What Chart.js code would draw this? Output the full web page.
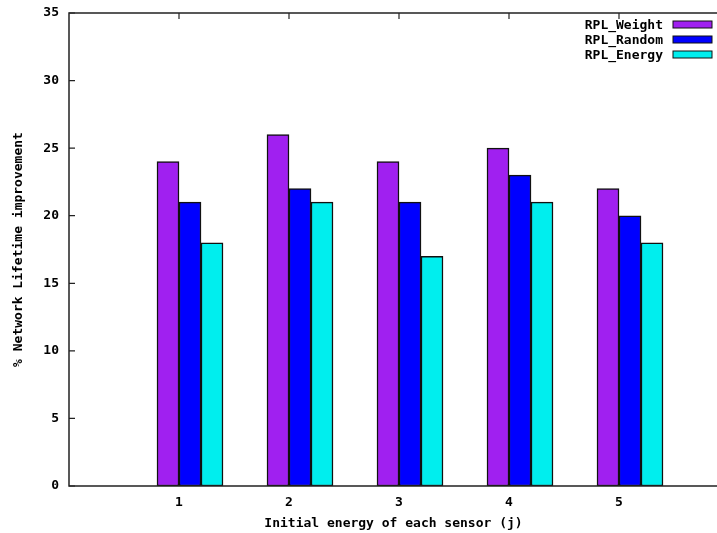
<!DOCTYPE html>
<html>
<head>
<meta charset="utf-8">
<script src="https://cdn.jsdelivr.net/npm/chart.js@4.4.1/dist/chart.umd.min.js"></script>
<style>
  html, body { margin: 0; padding: 0; background: #fff; overflow: hidden; }
  #wrap { width: 720px; height: 533px; }
</style>
</head>
<body>
<div id="wrap"><canvas id="c" width="720" height="533"></canvas></div>
<script>
// ---- data ----
const categories = [1, 2, 3, 4, 5];
const seriesNames = ['RPL_Weight', 'RPL_Random', 'RPL_Energy'];
const weightValues = [24, 26, 24, 25, 22];
const randomValues = [21, 22, 21, 23, 20];
const energyValues = [18, 21, 17, 21, 18];
const yTickValues = [0, 5, 10, 15, 20, 25, 30, 35];
const xTitle = 'Initial energy of each sensor (j)';
const yTitle = '% Network Lifetime improvement';

// ---- styling ----
const colors = ['#a020f0', '#0000ff', '#00eeee'];
const clusterOffsets = [-0.1, 0.1, 0.3];
const FONT = 'DejaVu Sans Mono';
const fontSpec = { family: FONT, size: 13, weight: 'bold' };

const allSeries = [weightValues, randomValues, energyValues];
const datasets = allSeries.map((vals, i) => ({
  label: seriesNames[i],
  data: categories.map((c, k) => ({ x: c + clusterOffsets[i], y: vals[k] })),
  backgroundColor: colors[i],
  borderColor: '#111',
  borderWidth: 1.5,
  borderSkipped: false,
  grouped: false,
  barPercentage: 1,
  categoryPercentage: 1
}));

const frame = {
  id: 'frame',
  beforeDatasetsDraw(chart) {
    const { ctx, chartArea: a, scales } = chart;
    ctx.save();
    ctx.strokeStyle = '#222';
    ctx.lineWidth = 1.2;
    ctx.beginPath();
    yTickValues.forEach(v => {
      const y = scales.y.getPixelForValue(v);
      ctx.moveTo(a.left, y); ctx.lineTo(a.left + 6, y);
    });
    categories.forEach(c => {
      const x = scales.x.getPixelForValue(c);
      ctx.moveTo(x, a.top); ctx.lineTo(x, a.top + 6);
      ctx.moveTo(x, a.bottom); ctx.lineTo(x, a.bottom - 6);
    });
    ctx.stroke();
    ctx.restore();
  },
  afterDatasetsDraw(chart) {
    const { ctx, chartArea: a } = chart;
    ctx.save();
    ctx.strokeStyle = '#222';
    ctx.lineWidth = 1.5;
    ctx.beginPath();
    ctx.moveTo(a.right + 5, a.top); ctx.lineTo(a.left, a.top);
    ctx.lineTo(a.left, a.bottom); ctx.lineTo(a.right + 5, a.bottom);
    ctx.stroke();
    // legend (gnuplot style, inside top-right)
    ctx.font = 'bold 13px "' + FONT + '"';
    ctx.textAlign = 'right';
    ctx.textBaseline = 'middle';
    chart.data.datasets.forEach((ds, i) => {
      const yc = a.top + 12 + i * 15;
      ctx.fillStyle = '#000';
      ctx.fillText(ds.label, a.right - 55, yc + 0.5);
      ctx.fillStyle = ds.backgroundColor;
      ctx.fillRect(a.right - 45, yc - 4, 39, 7);
      ctx.lineWidth = 1;
      ctx.strokeStyle = '#111';
      ctx.strokeRect(a.right - 45, yc - 4, 39, 7);
    });
    ctx.restore();
  }
};

new Chart(document.getElementById('c'), {
  type: 'bar',
  data: { datasets },
  options: {
    responsive: false,
    animation: false,
    layout: { padding: { left: 0, top: 13, right: 2, bottom: 0 } },
    plugins: { legend: { display: false }, tooltip: { enabled: false } },
    scales: {
      x: {
        type: 'linear',
        min: 0,
        max: 5.9,
        offset: false,
        grid: { display: false, drawTicks: false, offset: false },
        border: { display: false },
        ticks: {
          stepSize: 1,
          includeBounds: false,
          autoSkip: false,
          maxRotation: 0,
          padding: 9,
          color: '#000',
          font: fontSpec,
          callback: v => categories.includes(v) ? String(v) : ''
        },
        title: { display: true, text: xTitle, color: '#000', font: fontSpec, padding: { top: 0, bottom: 2 } },
        afterFit: s => { s.height = 47; s.paddingLeft = 0; s.paddingRight = 0; }
      },
      y: {
        min: 0,
        max: 35,
        grid: { display: false, drawTicks: false },
        border: { display: false },
        ticks: {
          stepSize: 5,
          padding: 10,
          color: '#000',
          font: fontSpec,
          callback: v => yTickValues.includes(v) ? String(v) : ''
        },
        title: { display: true, text: yTitle, color: '#000', font: fontSpec, padding: { top: 11, bottom: 0 } },
        afterFit: s => { s.width = 69; s.paddingTop = 0; s.paddingBottom = 0; }
      }
    }
  },
  plugins: [frame]
});
</script>
</body>
</html>
